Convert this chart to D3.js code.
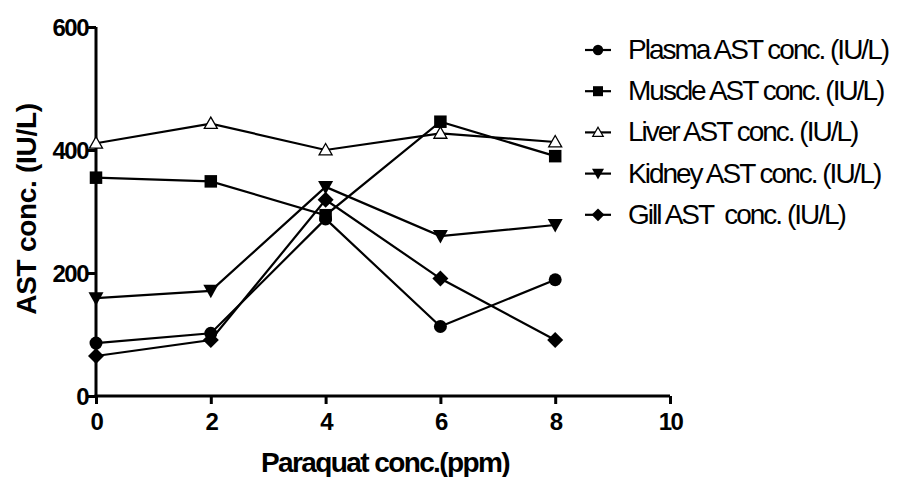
<!DOCTYPE html>
<html>
<head>
<meta charset="utf-8">
<script src="https://cdn.jsdelivr.net/npm/d3@7"></script>
<style>
body { margin: 0; background: #fff; }
text { font-family: "Liberation Sans", Arial, sans-serif; }
</style>
</head>
<body>
<svg id="chart" width="897" height="477"></svg>
<script>
var doses = [0, 2, 4, 6, 8];
var plasma = [86, 102, 288, 113, 189];
var muscle = [355, 349, 294, 446, 390];
var liver = [411, 443, 400, 427, 413];
var kidney = [159, 171, 340, 260, 278];
var gill = [65, 91, 319, 191, 91];
var seriesNames = ["Plasma AST conc. (IU/L)", "Muscle AST conc. (IU/L)", "Liver AST conc. (IU/L)", "Kidney AST conc. (IU/L)", "Gill AST  conc. (IU/L)"];
var xTicks = [0, 2, 4, 6, 8, 10];
var yTicks = [0, 200, 400, 600];

var svg = d3.select("#chart");

var x = d3.scaleLinear().domain([0, 10]).range([96, 670]);
var y = d3.scaleLinear().domain([0, 600]).range([396, 27]);

var series = [
  { name: seriesNames[0], vals: plasma, shape: "circle" },
  { name: seriesNames[1], vals: muscle, shape: "square" },
  { name: seriesNames[2], vals: liver, shape: "triUp" },
  { name: seriesNames[3], vals: kidney, shape: "triDown" },
  { name: seriesNames[4], vals: gill, shape: "diamond" }
];

function drawMarker(g, shape, cx, cy, small) {
  var k = small ? 0.8 : 1;
  if (shape == "circle") {
    g.append("circle").attr("cx", cx).attr("cy", cy).attr("r", 6.5 * k).attr("fill", "#000");
  } else if (shape == "square") {
    var s = 12.5 * k;
    g.append("rect").attr("x", cx - s / 2).attr("y", cy - s / 2).attr("width", s).attr("height", s).attr("fill", "#000");
  } else if (shape == "triUp") {
    var h = 6.5 * k;
    g.append("path")
      .attr("d", "M" + cx + "," + (cy - h) + "L" + (cx + h) + "," + (cy + h * 0.75) + "L" + (cx - h) + "," + (cy + h * 0.75) + "Z")
      .attr("fill", "#fff").attr("stroke", "#000").attr("stroke-width", 1.3);
  } else if (shape == "triDown") {
    var h = 7.5 * k;
    g.append("path")
      .attr("d", "M" + (cx - h) + "," + (cy - h * 0.8) + "L" + (cx + h) + "," + (cy - h * 0.8) + "L" + cx + "," + (cy + h) + "Z")
      .attr("fill", "#000");
  } else if (shape == "diamond") {
    var h = 8 * k;
    g.append("path")
      .attr("d", "M" + cx + "," + (cy - h) + "L" + (cx + h) + "," + cy + "L" + cx + "," + (cy + h) + "L" + (cx - h) + "," + cy + "Z")
      .attr("fill", "#000");
  }
}

// axes
var yAxis = d3.axisLeft(y).tickValues(yTicks).tickSize(8).tickPadding(0);
var xAxis = d3.axisBottom(x).tickValues(xTicks).tickSize(8).tickPadding(8);

var gy = svg.append("g").attr("transform", "translate(96,0)").call(yAxis);
var gx = svg.append("g").attr("transform", "translate(0,396)").call(xAxis);

[gy, gx].forEach(function (g) {
  g.select(".domain").attr("stroke-width", 3);
  g.selectAll(".tick line").attr("stroke-width", 3);
  g.selectAll(".tick text")
    .attr("font-size", 24).attr("font-weight", "bold").attr("fill", "#000")
    .style("letter-spacing", "-1.5px");
});
gy.select(".domain").attr("d", "M0," + y(600) + "V" + (y(0) + 1.5));
gx.select(".domain").attr("d", "M" + (x(0) - 1.5) + ",0H" + x(10));
gy.selectAll(".tick text").attr("dy", "0.36em");
gx.selectAll(".tick text").attr("dy", "0.75em");

// lines
var line = d3.line().x(function (d, i) { return x(doses[i]); }).y(function (d) { return y(d); });
series.forEach(function (s) {
  svg.append("path").attr("d", line(s.vals)).attr("fill", "none").attr("stroke", "#000").attr("stroke-width", 2.2);
});
series.forEach(function (s) {
  var g = svg.append("g");
  s.vals.forEach(function (v, i) { drawMarker(g, s.shape, x(doses[i]), y(v), false); });
});

// axis titles
svg.append("text").attr("x", 385).attr("y", 472).attr("text-anchor", "middle")
  .attr("font-size", 28).attr("font-weight", "bold").style("letter-spacing", "-1.6px")
  .text("Paraquat conc.(ppm)");
svg.append("text").attr("transform", "translate(36,209) rotate(-90)").attr("text-anchor", "middle")
  .attr("font-size", 28).attr("font-weight", "bold").style("letter-spacing", "-0.3px")
  .text("AST conc. (IU/L)");

// legend
var leg = svg.append("g");
series.forEach(function (s, i) {
  var ly = 50 + i * 41.2;
  leg.append("line").attr("x1", 585).attr("x2", 611).attr("y1", ly).attr("y2", ly).attr("stroke", "#000").attr("stroke-width", 2.2);
  drawMarker(leg, s.shape, 598, ly, true);
  leg.append("text").attr("x", 628).attr("y", ly + 9).attr("font-size", 28)
    .style("letter-spacing", "-2px").attr("xml:space", "preserve").text(s.name);
});
</script>
</body>
</html>
